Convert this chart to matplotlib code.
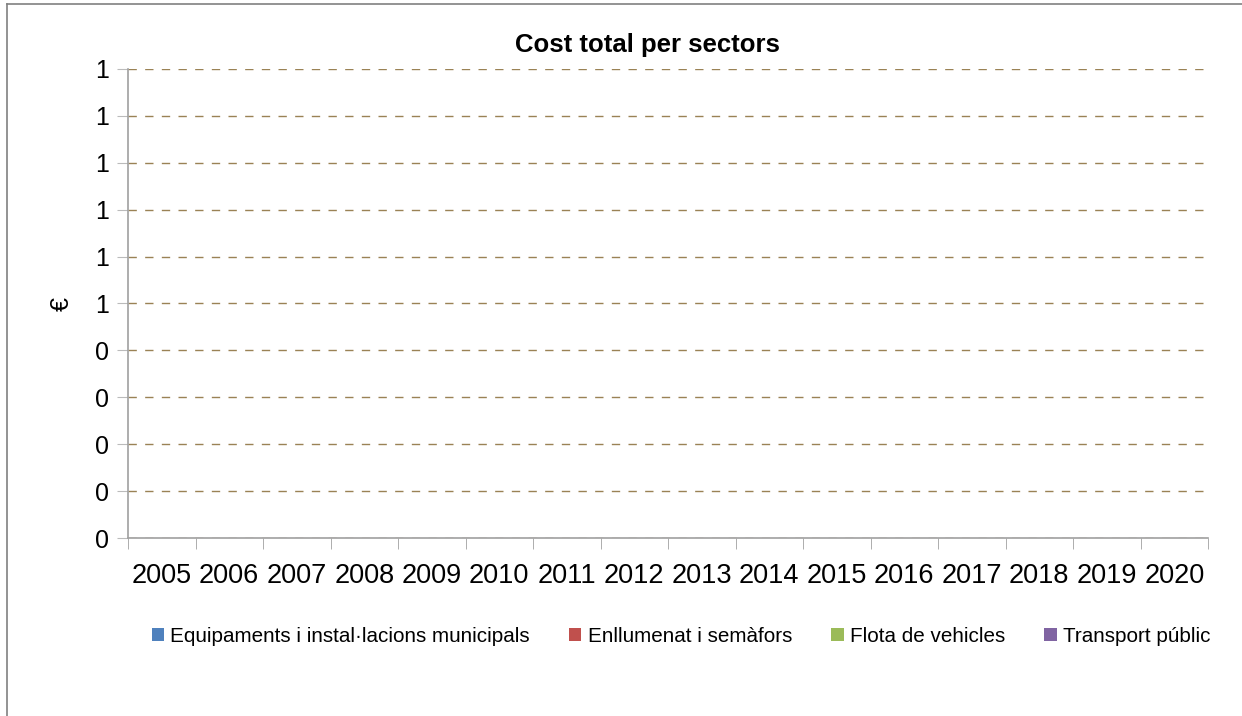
import matplotlib
matplotlib.use("Agg")
import matplotlib.pyplot as plt
import numpy as np
from matplotlib.ticker import FuncFormatter, MultipleLocator
from matplotlib.lines import Line2D

plt.rcParams['font.family'] = ['Liberation Sans', 'DejaVu Sans']

years = ['2005', '2006', '2007', '2008', '2009', '2010', '2011', '2012',
         '2013', '2014', '2015', '2016', '2017', '2018', '2019', '2020']
series_names = ['Equipaments i instal·lacions municipals', 'Enllumenat i semàfors',
                'Flota de vehicles', 'Transport públic']
equipaments = [0] * 16
enllumenat = [0] * 16
flota = [0] * 16
transport = [0] * 16
colors = ['#4f81bd', '#c0504d', '#9bbb59', '#8064a2']

W, H = 1242, 716
fig = plt.figure(figsize=(W/100, H/100), dpi=100)
ax = fig.add_axes([128/W, 1 - 538/H, (1208-128)/W, (538-69)/H])

x = np.arange(len(years))
bottom = np.zeros(len(years))
for vals, name, c in zip([equipaments, enllumenat, flota, transport], series_names, colors):
    ax.bar(x, vals, bottom=bottom, width=0.55, color=c, label=name, zorder=3)
    bottom += np.array(vals)

ax.set_xlim(-0.5, len(years) - 0.5)
ax.set_ylim(0, 1)
ax.yaxis.set_major_locator(MultipleLocator(0.1))
ax.yaxis.set_major_formatter(FuncFormatter(lambda v, p: str(int(np.floor(v + 0.5 + 1e-9)))))
ax.set_xticks(x)
ax.set_xticklabels(years)
ax.set_xticks(np.arange(-0.5, len(years)), minor=True)
ax.tick_params(axis='x', which='major', length=0, labelsize=19.5, pad=18)
ax.tick_params(axis='x', which='minor', length=8, color='#a0a0a0', direction='out')
ax.tick_params(axis='y', which='major', length=8, color='#bbbbbb', labelsize=18, pad=6)

ax.grid(axis='y', which='major', linestyle=(0, (6, 6)), color='#9a8255', linewidth=1.0, zorder=0)
for s in ['top', 'right']:
    ax.spines[s].set_visible(False)
for s in ['left', 'bottom']:
    ax.spines[s].set_color('#a0a0a0')
    ax.spines[s].set_linewidth(1.2)

fig.text(62/W, 1 - 304/H, '€', rotation=90, fontsize=18, ha='center', va='center')
fig.text(647/W, 1 - 45/H, 'Cost total per sectors', fontsize=18.5, fontweight='bold',
         ha='center', va='center')

leg = ax.legend(loc='center', bbox_to_anchor=(681/W, 1 - 636/H),
                bbox_transform=fig.transFigure, ncol=4, frameon=False,
                fontsize=14.85, handlelength=0.6, handleheight=0.6, handletextpad=0.3,
                columnspacing=1.9, borderpad=0, borderaxespad=0)

fig.add_artist(Line2D([7/W, 7/W], [0, 1 - 4/H], transform=fig.transFigure,
                      color='#808080', linewidth=1.2))
fig.add_artist(Line2D([7/W, 1], [1 - 4/H, 1 - 4/H], transform=fig.transFigure,
                      color='#808080', linewidth=1.2))

fig.savefig('out.png', dpi=100)
